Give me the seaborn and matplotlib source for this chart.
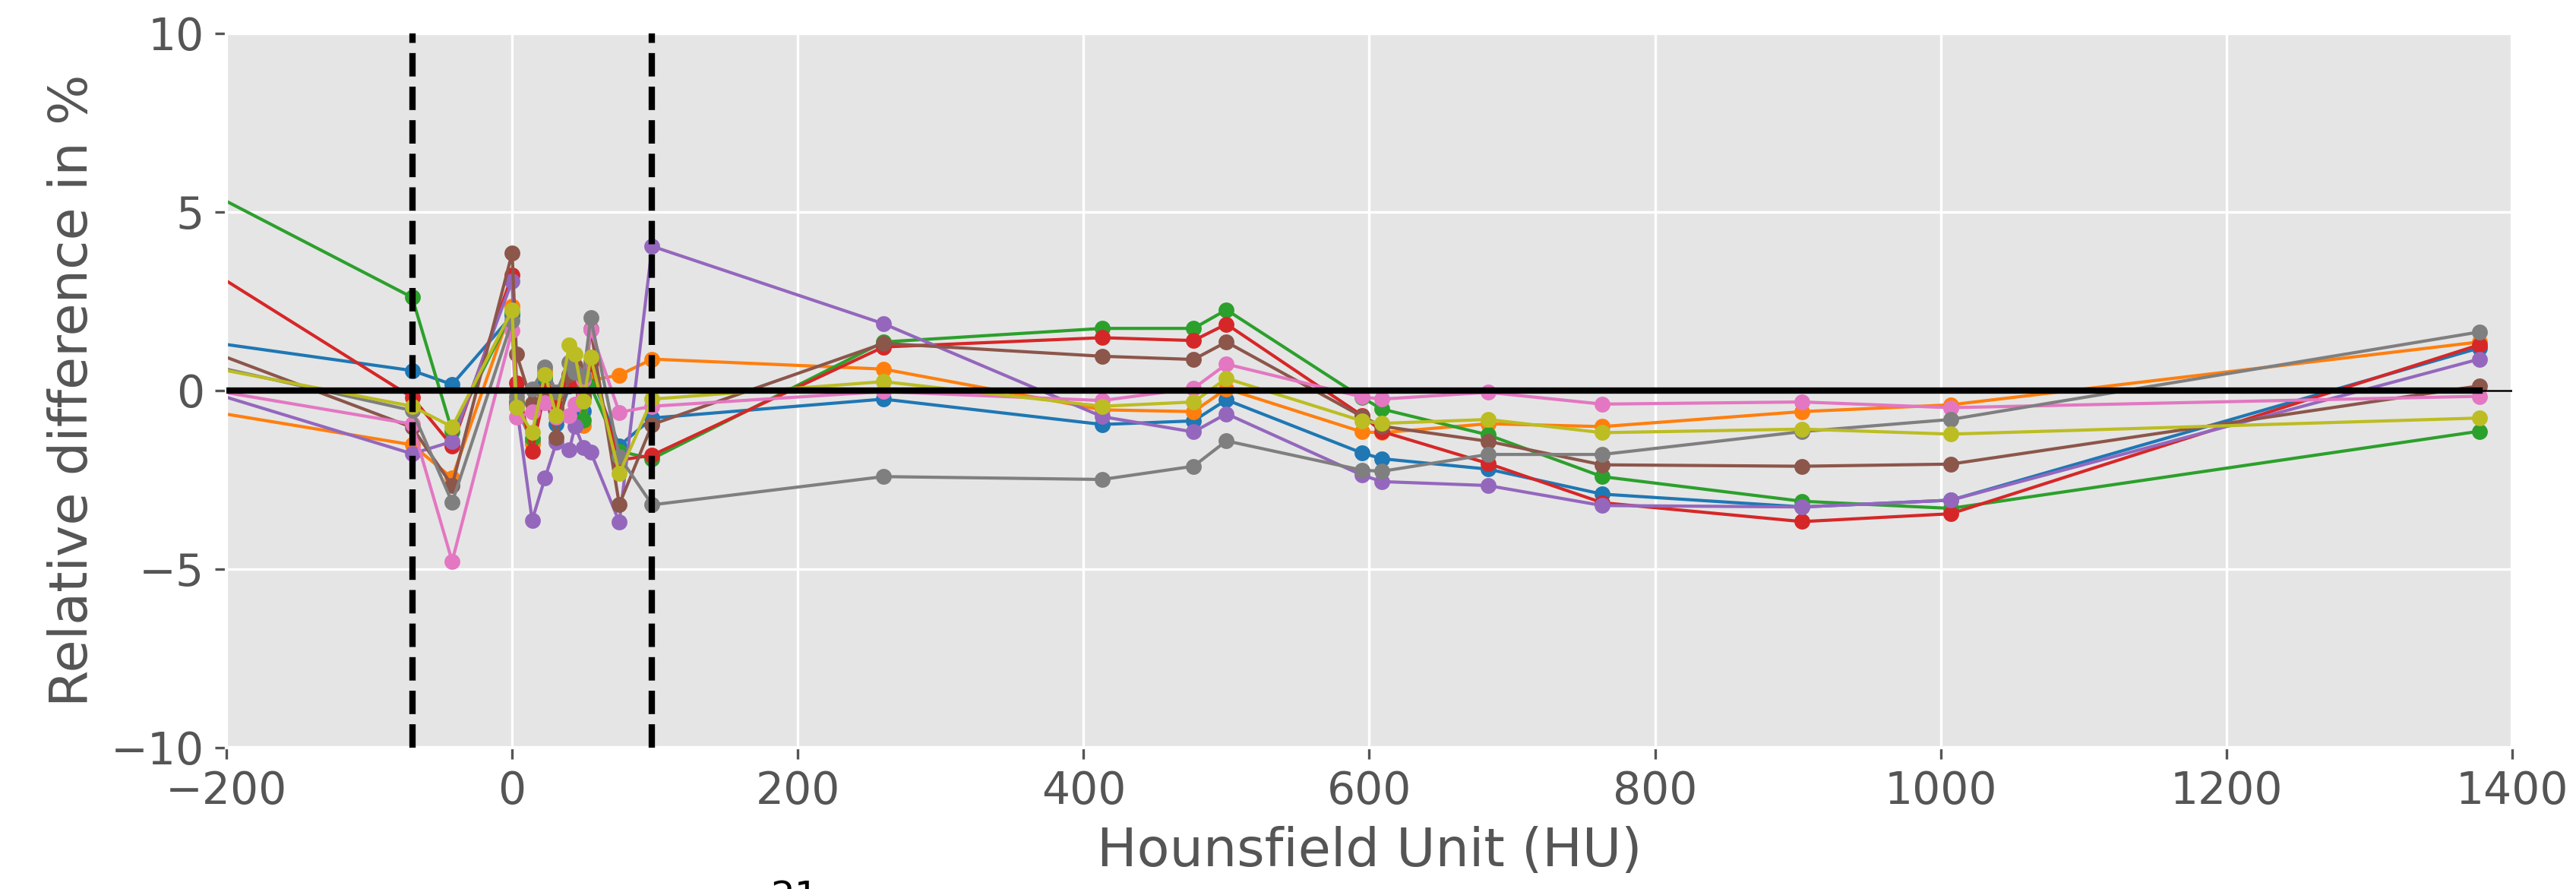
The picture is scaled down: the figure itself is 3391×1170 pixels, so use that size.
import numpy as np
import matplotlib
matplotlib.use("Agg")
import matplotlib.pyplot as plt
import seaborn as sns

# Measured CT numbers of the phantom inserts (HU)
hu = [-300, -70, -42, 0, 3, 14, 23, 31, 40, 44, 50, 55, 75, 98,
      260, 413, 477, 500, 595, 609, 683, 763, 903, 1007, 1377]

# Relative difference (%) per protocol, one value per insert
rel_diff_1 = [1.85, 0.56, 0.17, 2.10, -0.45, -1.45, 0.30, -0.94, 0.12, 0.30, -0.57, 0.45, -1.55, -0.77,
              -0.24, -0.95, -0.85, -0.26, -1.75, -1.91, -2.20, -2.90, -3.26, -3.07, 1.19]
rel_diff_2 = [0.00, -1.52, -2.45, 2.37, -0.30, -1.50, 0.55, -0.55, 0.29, 0.40, -0.98, 0.29, 0.43, 0.88,
              0.60, -0.54, -0.59, 0.05, -1.16, -1.18, -0.93, -1.01, -0.59, -0.40, 1.36]
rel_diff_3 = [7.37, 2.61, -1.14, 2.20, -0.35, -1.35, 0.40, -0.53, 0.37, 0.50, -0.82, 0.12, -1.70, -1.91,
              1.36, 1.74, 1.74, 2.26, -0.20, -0.52, -1.24, -2.41, -3.10, -3.30, -1.14]
rel_diff_4 = [5.58, -0.19, -1.55, 3.23, 0.22, -1.70, 0.00, -0.45, 0.20, 0.60, -0.20, 0.78, -1.95, -1.81,
              1.22, 1.48, 1.40, 1.86, -0.70, -1.15, -2.04, -3.14, -3.67, -3.45, 1.28]
rel_diff_5 = [1.03, -1.77, -1.43, 3.07, -0.40, -3.63, -2.45, -1.45, -1.67, -1.00, -1.60, -1.72, -3.68, 4.04,
              1.87, -0.73, -1.16, -0.65, -2.37, -2.55, -2.66, -3.22, -3.26, -3.07, 0.88]
rel_diff_6 = [2.44, -1.03, -2.66, 3.85, 1.03, -0.37, -0.10, -1.31, 0.45, 0.70, -0.12, 1.72, -3.19, -0.95,
              1.32, 0.96, 0.87, 1.36, -0.73, -1.00, -1.42, -2.08, -2.12, -2.06, 0.13]
rel_diff_7 = [0.62, -0.94, -4.78, 1.69, -0.75, -0.60, -0.35, -0.74, -0.70, -0.38, 0.30, 1.70, -0.61, -0.44,
              -0.03, -0.28, 0.06, 0.74, -0.18, -0.24, -0.05, -0.38, -0.32, -0.48, -0.16]
rel_diff_8 = [1.49, -0.56, -3.13, 1.95, -0.17, 0.05, 0.65, -0.04, 0.78, 0.50, 0.40, 2.04, -1.85, -3.20,
              -2.41, -2.49, -2.12, -1.41, -2.23, -2.26, -1.79, -1.79, -1.15, -0.81, 1.64]
rel_diff_9 = [1.33, -0.44, -1.02, 2.25, -0.46, -1.17, 0.45, -0.70, 1.27, 1.02, -0.30, 0.94, -2.33, -0.24,
              0.25, -0.44, -0.32, 0.34, -0.85, -0.92, -0.81, -1.18, -1.08, -1.22, -0.77]

all_series = [rel_diff_1, rel_diff_2, rel_diff_3, rel_diff_4, rel_diff_5,
              rel_diff_6, rel_diff_7, rel_diff_8, rel_diff_9]

# Soft-tissue window boundaries (HU)
window_limits = [-70, 98]

plt.style.use("ggplot")
plt.rcParams["font.size"] = 14

fig, ax = plt.subplots(figsize=(3391 / 300, 1170 / 300), dpi=300)
fig.subplots_adjust(left=0.0879, right=0.9752, top=0.9624, bottom=0.159)

palette = sns.color_palette("tab10", len(all_series))
for vals, color in zip(all_series, palette):
    sns.lineplot(x=hu, y=vals, ax=ax, color=color, marker="o", markersize=5,
                 markeredgewidth=0, linewidth=1.0, sort=False, estimator=None,
                 legend=False, zorder=2)

# zero-difference reference
sns.lineplot(x=hu, y=np.zeros(len(hu)), ax=ax, color="k", linewidth=2,
             sort=False, estimator=None, legend=False, zorder=3)
ax.axhline(0, color="k", linewidth=0.6, zorder=3)

for lim in window_limits:
    ax.axvline(lim, color="k", linestyle="--", linewidth=2, zorder=4)

ax.set_xlim(-200, 1400)
ax.set_ylim(-10, 10)
ax.set_xticks(np.arange(-200, 1401, 200))
ax.set_yticks([-10, -5, 0, 5, 10])
ax.set_xlabel("Hounsfield Unit (HU)")
ax.set_ylabel("Relative difference in %")

fig.text(0.3085, 0.0111, "21", ha="center", va="top", fontsize=12, color="k")

fig.savefig("out.png", dpi=300)
